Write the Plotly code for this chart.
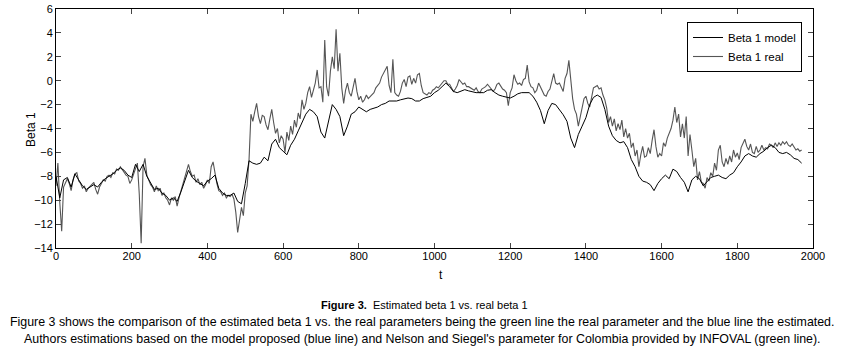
import plotly.graph_objects as go

# ---------------- data ----------------
t_model = list(range(0, 1980, 10))
beta1_model = [
    -8.0, -9.8, -8.3, -8.1, -8.9, -7.8, -8.3, -8.8, -9.1, -8.9,
    -8.7, -8.9, -8.5, -8.2, -8.0, -7.8, -7.5, -7.3, -7.5, -7.9,
    -8.1, -7.0, -7.6, -7.0, -8.0, -8.6, -9.1, -9.0, -9.4, -9.6,
    -10.0, -9.8, -10.1, -9.3, -8.3, -7.5, -8.1, -8.4, -8.6, -8.8,
    -8.4, -8.2, -7.9, -9.0, -9.4, -9.6, -9.6, -9.4, -10.1, -10.3,
    -8.6, -6.7, -6.9, -7.0, -6.9, -6.4, -6.7, -5.3, -4.9, -5.6,
    -5.9, -6.2, -5.4, -4.9, -4.2, -3.5, -2.8, -2.4, -2.6, -3.0,
    -4.3, -4.8, -3.3, -2.0, -2.4, -3.0, -4.6, -3.8, -2.8, -2.6,
    -2.2, -2.4, -2.6, -2.4, -2.3, -2.2, -2.0, -1.9, -1.7, -1.7,
    -1.7, -1.6, -1.5, -1.45, -1.5, -1.7, -1.7, -1.5, -1.4, -1.3,
    -1.0, -0.8, -0.5, -0.2, -0.5, -0.9, -1.0, -0.9, -0.75, -0.85,
    -0.95, -1.0, -1.0, -1.0, -0.8, -0.75, -1.0, -1.2, -1.3, -1.4,
    -1.45, -1.3, -1.1, -1.0, -1.0, -1.0, -1.3, -1.8, -2.5, -3.6,
    -2.5, -1.9, -2.0, -2.4, -2.85, -3.4, -4.8, -5.6, -4.5, -3.8,
    -3.1, -2.0, -1.4, -1.2, -1.4, -2.4, -3.8, -4.6, -5.0, -5.2,
    -5.1, -5.6, -6.6, -7.2, -8.0, -8.4, -8.5, -8.7, -9.2, -8.6,
    -8.2, -7.9, -8.2, -7.4, -7.6, -8.1, -8.5, -9.3, -8.3, -8.0,
    -8.2, -8.8, -8.4, -8.1, -8.0, -7.9, -8.1, -8.2, -7.9, -7.7,
    -7.2, -6.8, -6.3, -6.1, -6.3, -6.4, -6.1, -5.9, -5.6, -5.4,
    -5.6, -6.0, -6.1, -6.0, -6.2, -6.5, -6.6, -6.9,
]

t_real = list(range(0, 1975, 5))
beta1_real = [
    -8.8, -6.9, -10.2, -12.6, -8.9, -8.5, -8.2, -8.6, -9.2, -8.3,
    -7.8, -7.7, -8.4, -8.6, -9.0, -8.8, -9.3, -9.0, -8.8, -8.6,
    -8.5, -9.1, -9.5, -8.9, -8.6, -8.3, -8.4, -8.0, -7.9, -8.1,
    -7.7, -7.8, -7.4, -7.5, -7.2, -7.4, -7.6, -7.9, -8.0, -8.6,
    -8.3, -7.8, -7.2, -6.9, -9.5, -13.6, -7.2, -6.5, -7.9, -8.4,
    -8.7, -8.9, -9.3, -8.8, -9.2, -9.0, -9.6, -9.4, -9.8, -10.0,
    -10.4, -9.8, -10.0, -9.7, -10.5, -9.8, -9.2, -8.6, -8.2, -7.6,
    -7.0, -7.6, -8.0, -7.9, -8.5, -8.2, -8.7, -8.5, -9.0, -8.7,
    -8.3, -8.6, -7.2, -6.8, -7.9, -8.6, -9.2, -9.3, -9.6, -9.4,
    -9.8, -9.6, -9.7, -9.5, -9.9, -11.0, -12.7, -11.5, -10.6, -11.3,
    -9.4, -8.8, -6.6, -2.8, -3.4, -2.6, -1.9, -3.0, -3.6, -2.9,
    -3.0, -3.7, -4.1, -3.2, -2.4, -3.5, -4.4, -4.0, -5.2, -4.6,
    -4.9, -6.0, -4.3, -5.0, -3.8, -4.5, -3.3, -3.9, -2.7, -3.2,
    -1.6, -2.4, -1.9, -1.0, -0.5, -1.4, -0.8, -0.2, 0.9, -0.6,
    -0.5, -1.8, 3.4, -0.5, -1.3, 0.8, 2.0, 1.0, 4.3, 0.8,
    2.3, -0.6, -1.9, -0.8, -0.2, -1.0, -1.3, -0.4, 0.2, -0.9,
    -1.6, -1.3, -1.8, -1.6, -1.2, -1.5, -1.3, -1.1, -1.0, -0.6,
    -0.4, -0.2, 0.3, 0.6, 1.0, 1.2, -0.4, -1.0, 1.8, -1.0,
    -1.2, -1.3, -0.9, -0.2, 0.1, -0.5, 0.3, 0.4, -0.3, 0.2,
    -0.2, 0.5, 0.6, -0.4, -1.0, -1.1, -1.2, -1.0, -1.1, -0.8,
    -0.7, -0.5, -0.6, -0.4, -0.2, 0.0, 0.0, -0.3, -0.3, -0.6,
    -0.9, -0.7, -0.4, 0.1, -0.1, -0.3, -0.2, -0.5, -0.5, -0.6,
    -0.7, -0.8, -0.6, -0.9, -1.0, -0.7, -0.6, -0.5, -0.3, -0.5,
    -0.6, -0.9, -0.7, -0.3, -0.2, -0.5, -0.7, -0.8, -1.0, -2.1,
    -1.0, -0.6, 0.5, 0.0, -0.3, -0.2, -0.4, 0.1, 0.2, 1.3,
    -0.1, -0.5, -0.6, -1.0, -0.8, -0.2, -0.5, -0.9, -1.2, -1.3,
    -0.9, -0.7, 0.1, 0.6, -0.2, -0.3, -0.2, -0.6, -0.9, 0.2,
    0.6, 1.7, -0.2, -1.5, -2.4, -2.8, -3.8, -3.0, -2.0, -1.5,
    -1.3, -1.9, -2.2, -1.2, -0.6, -0.5, -0.4, -0.7, -0.6, -1.2,
    -1.6, -2.3, -3.5, -3.0, -3.8, -3.2, -4.2, -3.6, -4.1, -3.3,
    -4.7, -4.0, -4.8, -4.4, -5.6, -5.2, -6.3, -5.8, -7.2, -6.2,
    -5.5, -6.4, -6.3, -5.6, -6.1, -5.0, -4.1, -5.5, -6.4, -6.1,
    -6.3, -5.2, -5.5, -4.8, -4.4, -4.0, -3.3, -2.2, -3.5, -2.8,
    -4.7, -3.6, -4.8, -3.0, -6.3, -4.5, -5.8, -7.2, -6.5, -8.3,
    -7.6, -8.5, -8.6, -9.0, -8.1, -8.4, -7.7, -8.0, -6.9, -7.5,
    -5.8, -5.4, -6.8, -7.2, -6.5, -7.0, -6.3, -6.8, -5.8, -6.4,
    -6.05, -6.6, -5.6, -5.2, -4.9, -5.5, -5.8, -5.3, -6.0, -6.1,
    -5.5, -6.0, -5.8, -5.4, -5.8, -5.6, -5.7, -5.3, -5.4, -5.6,
    -5.2, -5.5, -5.2, -5.4, -5.1, -5.3, -5.1, -5.4, -5.5, -5.3,
    -5.6, -5.8, -5.7, -5.9, -5.8,
]

x_ticks = [0, 200, 400, 600, 800, 1000, 1200, 1400, 1600, 1800, 2000]
y_ticks = [-14, -12, -10, -8, -6, -4, -2, 0, 2, 4, 6]
y_tick_text = ["\u221214", "\u221212", "\u221210", "\u22128", "\u22126", "\u22124",
               "\u22122", "0", "2", "4", "6"]

caption_title = "<b>Figure 3.</b>  Estimated beta 1 vs. real beta 1"
caption_line1 = ("Figure 3 shows the comparison of the estimated beta 1 vs. the real parameters "
                 "being the green line the real parameter and the blue line the estimated.")
caption_line2 = ("Authors estimations based on the model proposed (blue line) and Nelson and "
                 "Siegel's parameter for Colombia provided by INFOVAL (green line).")

# ---------------- figure ----------------
W, H = 845, 349
L, R, T, B = 56, 32, 9, 101
plot_w = W - L - R
plot_h = H - T - B

fig = go.Figure()
fig.add_trace(go.Scatter(x=t_real[:len(beta1_real)], y=beta1_real, mode="lines",
                         name="Beta 1 real", line=dict(color="#555555", width=1.1)))
fig.add_trace(go.Scatter(x=t_model[:len(beta1_model)], y=beta1_model, mode="lines",
                         name="Beta 1 model", line=dict(color="#000000", width=1)))

axis_font = dict(family="Liberation Sans, Arial, sans-serif", size=11, color="#000")
fig.update_xaxes(range=[0, 2000], tickvals=x_ticks, ticks="inside", ticklen=5,
                 showline=True, linecolor="#000", linewidth=1, mirror="ticks",
                 showgrid=False, zeroline=False, tickfont=axis_font,
                 automargin=False, ticklabelstandoff=-2, ticklabeloverflow="allow")
fig.update_yaxes(range=[-14, 6], tickvals=y_ticks, ticktext=y_tick_text,
                 ticks="inside", ticklen=5, showline=True, linecolor="#000",
                 linewidth=1, mirror="ticks", showgrid=False, zeroline=False,
                 tickfont=axis_font, automargin=False, ticklabeloverflow="allow")


def px(xpix):
    """reference pixel x -> paper coordinate"""
    return (xpix - L) / plot_w


def py(ypix):
    """reference pixel y -> paper coordinate"""
    return (H - B - ypix) / plot_h


def note(text, x, y, size, angle=0):
    return dict(text=text, x=px(x), y=py(y), xref="paper", yref="paper",
                xanchor="center", yanchor="middle", showarrow=False, textangle=angle,
                font=dict(family="Liberation Sans, Arial, sans-serif", size=size,
                          color="#000"))


annotations = [
    note("t", 441, 275, 12),
    note("Beta 1", 31, 129, 12, -90),
    note(caption_title, 424, 305, 11),
    note(caption_line1, 422, 322, 12.4),
    note(caption_line2, 422, 339, 12.4),
]

fig.update_layout(
    width=W, height=H, margin=dict(l=L, r=R, t=T, b=B),
    paper_bgcolor="white", plot_bgcolor="white",
    showlegend=True,
    legend=dict(x=px(802), y=py(22), xanchor="right", yanchor="top",
                bordercolor="#000", borderwidth=1, bgcolor="white",
                traceorder="reversed", tracegroupgap=0,
                font=dict(family="Liberation Sans, Arial", size=11.5, color="#000")),
    annotations=annotations,
)

fig.write_html("out.html", config={"displayModeBar": False},
               post_script="document.body.style.margin='0px';")
